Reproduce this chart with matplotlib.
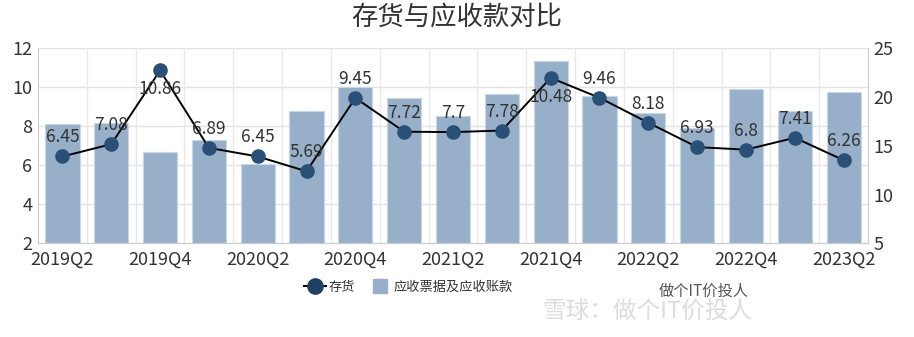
import numpy as np
import matplotlib.pyplot as plt
from matplotlib.lines import Line2D

plt.rcParams['font.family'] = ['Noto Sans CJK SC', 'DejaVu Sans']

# data
quarters = ['2019Q2', '2019Q3', '2019Q4', '2020Q1', '2020Q2', '2020Q3', '2020Q4', '2021Q1',
            '2021Q2', '2021Q3', '2021Q4', '2022Q1', '2022Q2', '2022Q3', '2022Q4', '2023Q1', '2023Q2']
inventory = [6.45, 7.08, 10.86, 6.89, 6.45, 5.69, 9.45, 7.72, 7.7, 7.78, 10.48, 9.46, 8.18, 6.93, 6.8, 7.41, 6.26]
receivables = [17.2, 17.3, 14.4, 15.6, 13.1, 18.6, 21.0, 19.9, 18.1, 20.3, 23.7, 20.1, 18.4, 16.8, 20.8, 18.6, 20.5]
labels_below = ['2019Q4', '2021Q4']  # these labels sit under the marker

bar_color = '#97afc9'
dot_color = '#2a5078'

x = np.arange(len(quarters))

fig = plt.figure(figsize=(9.14, 3.37), dpi=100)
ax = fig.add_axes([0.0416, 0.278, 0.9081, 0.579])
ax2 = ax.twinx()

# bars on the right axis
ax2.bar(x, receivables, width=0.7, color=bar_color, edgecolor='#c9d6e4', linewidth=0.8, zorder=2)
ax2.set_ylim(5, 25)
ax2.set_yticks([5, 10, 15, 20, 25])

# inventory line on the left axis, drawn above the bars
ax.set_zorder(ax2.get_zorder() + 1)
ax.patch.set_visible(False)
ax.plot(x, inventory, color='black', linewidth=1.4, marker='o', markersize=9.5,
        markerfacecolor=dot_color, markeredgecolor=dot_color, zorder=3)
for i, v in enumerate(inventory):
    dy = -19 if quarters[i] in labels_below else 19
    ax.annotate(f'{v:g}', (x[i], v), xytext=(0, dy), textcoords='offset pixels',
                ha='center', va='center', fontsize=12.5, color='#333333', zorder=4)

ax.set_ylim(2, 12)
ax.set_yticks([2, 4, 6, 8, 10, 12])
ax.set_xlim(-0.5, len(quarters) - 0.5)
ax.set_xticks(x[::2])
ax.set_xticklabels(quarters[::2])

# grid: horizontal on left ticks, vertical on category boundaries
for yv in [4, 6, 8, 10, 12]:
    ax2.axhline(5 + (yv - 2) * 2, color='#e3e3e3', linewidth=1, zorder=0)
for b in np.arange(0.5, len(quarters) - 0.5, 1.0):
    ax2.axvline(b, color='#e8e8e8', linewidth=1, zorder=0)

for a in (ax, ax2):
    for s in ['top', 'left', 'right']:
        a.spines[s].set_visible(False)
    a.spines['bottom'].set_color('#cccccc')
    a.tick_params(axis='y', length=0, labelsize=13, colors='#333333', pad=4)
    a.tick_params(axis='x', length=0, labelsize=13, colors='#333333', pad=5)
ax2.spines['right'].set_visible(True)
ax2.spines['right'].set_color('#cccccc')
ax.spines['left'].set_visible(True)
ax.spines['left'].set_color('#cccccc')

fig.text(0.5, 0.948, '存货与应收款对比', ha='center', va='center', fontsize=19, color='#333333')

handles = [
    Line2D([], [], color='black', linewidth=1.4, marker='o', markersize=11,
           markerfacecolor='#213f60', markeredgecolor='#213f60'),
    Line2D([], [], linestyle='none', marker='s', markersize=10, color=bar_color),
]
fig.legend(handles, ['存货', '应收票据及应收账款'], loc='center', bbox_to_anchor=(0.447, 0.148),
           ncol=2, frameon=False, fontsize=9.5, handlelength=1.7, handletextpad=0.2,
           columnspacing=1.0, labelcolor='#333333')

# watermark
fig.text(0.708, 0.072, '雪球：做个IT价投人', ha='center', va='center', fontsize=17,
         color='#dddddd')
fig.text(0.77, 0.135, '做个IT价投人', ha='center', va='center', fontsize=11, color='#555555')

fig.savefig('out.png', dpi=100)
